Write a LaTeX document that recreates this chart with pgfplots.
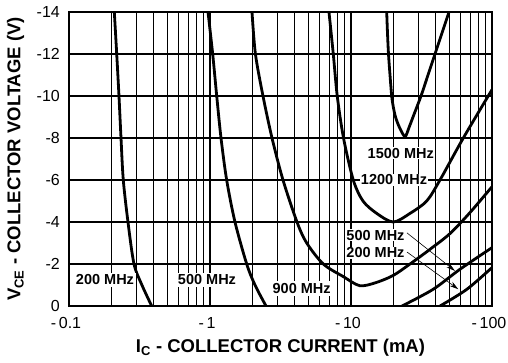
\documentclass[border=0pt]{standalone}
\usepackage{fontspec}
\setmainfont{Liberation Sans}
\usepackage{pgfplots}
\pgfplotsset{compat=1.18}
\usetikzlibrary{arrows.meta}
\begin{document}
\begin{tikzpicture}
\useasboundingbox (-69pt,-56pt) rectangle (439pt,306pt);
\begin{axis}[
  at={(0,0)}, anchor=south west,
  scale only axis, width=423pt, height=294pt,
  xmode=log, xmin=0.1, xmax=100,
  ymin=-14, ymax=0, y dir=reverse,
  xtick={0.1,1,10,100},
  xticklabels={-\,0.1,-\,1,-\,10,-\,100},
  minor xtick={0.2,0.3,0.4,0.5,0.6,0.7,0.8,0.9,2,3,4,5,6,7,8,9,20,30,40,50,60,70,80,90},
  ytick={0,-2,-4,-6,-8,-10,-12,-14},
  yticklabels={0,-2,-4,-6,-8,-10,-12,-14},
  grid=both,
  major grid style={black, line width=1.5pt},
  minor grid style={black, line width=1.1pt},
  major tick length=0pt, minor tick length=0pt,
  axis line style={black, line width=1.7pt},
  xticklabel style={font=\fontsize{16}{17}\selectfont, inner sep=0pt, anchor=north, yshift=-11pt, xshift=-3pt},
  yticklabel style={font=\fontsize{16}{17}\selectfont, inner sep=0pt, anchor=east, xshift=-9pt},
  xlabel={I\textsubscript{C} - COLLECTOR CURRENT (mA)},
  ylabel={V\textsubscript{CE} - COLLECTOR VOLTAGE (V)},
  xlabel style={font=\fontsize{18.5}{20}\selectfont\bfseries, at={(axis description cs:0.5,-0.143)}, anchor=center},
  ylabel style={font=\fontsize{18.5}{20}\selectfont\bfseries, at={(axis description cs:-0.126,0.5)}, anchor=center},
  curve/.style={black, line width=2.8pt, smooth, mark=none},
]
% 200 MHz left branch
\addplot[curve] coordinates {(0.2096,-14) (0.2180,-12) (0.2262,-10) (0.2338,-8) (0.2427,-6) (0.2620,-4) (0.2891,-2) (0.329,-1) (0.386,0)};
% 500 MHz left branch
\addplot[curve] coordinates {(0.968,-14) (1.045,-12) (1.116,-10) (1.197,-8) (1.313,-6) (1.504,-4) (1.821,-2) (2.085,-1) (2.496,0)};
% 900 MHz
\addplot[curve] coordinates {(1.986,-14) (2.10,-12) (2.376,-10) (2.753,-8) (3.294,-6) (4.14,-4) (4.852,-3) (6.361,-2) (8.82,-1.4) (11.5,-0.97) (14.80,-1.1) (19.86,-1.45) (26.21,-2.0) (36.34,-2.7) (50.37,-3.45) (69.82,-4.45) (100,-5.68)};
% 1200 MHz
\addplot[curve] coordinates {(6.98,-14) (7.49,-12) (7.99,-10) (8.85,-8) (10.38,-6) (12.16,-5) (15.22,-4.41) (19.95,-4.0) (26.21,-4.41) (34.43,-5) (42.77,-6) (62.6,-8) (100,-10.3)};
% 1500 MHz
\addplot[curve] coordinates {(17.92,-14) (18.15,-13) (18.45,-12) (18.91,-11) (19.44,-10) (19.93,-9.5) (20.69,-9) (22.08,-8.5) (24.15,-8.07) (25.79,-8.5) (27.53,-9) (31.37,-10) (35.17,-11) (39.42,-12) (44.2,-13) (49.55,-14)};
% 500 MHz right branch
\addplot[curve] coordinates {(22.99,0) (38.15,-0.79) (59.29,-1.75) (100,-2.78)};
% 200 MHz right branch
\addplot[curve] coordinates {(42.77,0) (66.16,-0.79) (100,-1.83)};

\tikzset{lab/.style={fill=white, inner sep=2pt, font=\fontsize{14.5}{16}\selectfont\bfseries}}
\node[lab] at (axis cs:0.180,-1.24) {200 MHz};
\node[lab] at (axis cs:0.952,-1.24) {500 MHz};
\node[lab] at (axis cs:4.47,-0.84) {900 MHz};
\node[lab, inner sep=1pt] at (axis cs:22.55,-7.27) {1500 MHz};
\node[lab, inner sep=1pt] at (axis cs:20.18,-6.0) {1200 MHz};
\node[lab, inner sep=1pt] at (axis cs:14.92,-3.38) {500 MHz};
\node[lab, inner sep=1pt] at (axis cs:14.92,-2.54) {200 MHz};
\draw[black, line width=0.6pt, -{Stealth[length=9pt,width=5pt]}] (axis cs:24.96,-3.48) -- (axis cs:54.66,-1.67);
\draw[black, line width=0.6pt, -{Stealth[length=9pt,width=5pt]}] (axis cs:24.96,-2.57) -- (axis cs:57.68,-0.80);
\end{axis}
\end{tikzpicture}
\end{document}
